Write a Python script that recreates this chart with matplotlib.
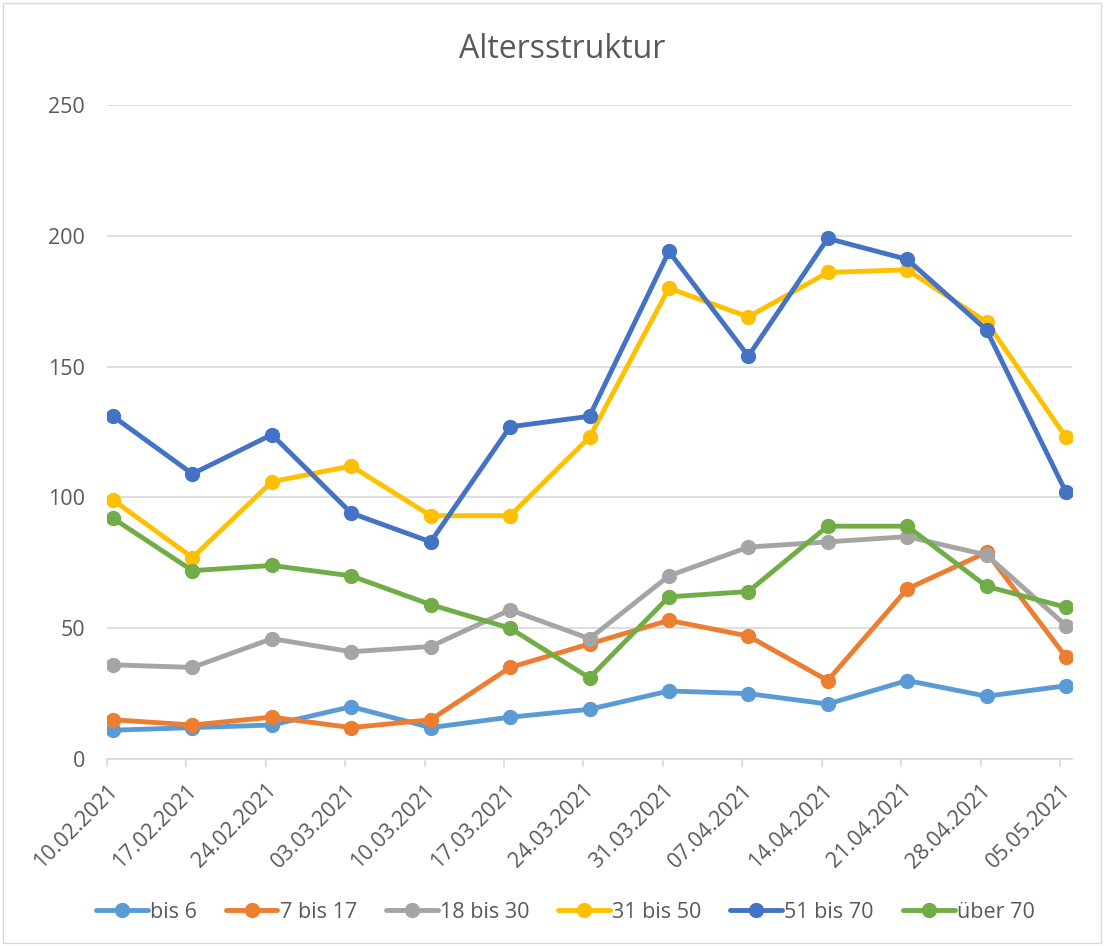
import matplotlib.pyplot as plt
from matplotlib.patches import Rectangle

plt.rcParams['font.family'] = ['Open Sans', 'DejaVu Sans']

dates = ['10.02.2021', '17.02.2021', '24.02.2021', '03.03.2021', '10.03.2021',
         '17.03.2021', '24.03.2021', '31.03.2021', '07.04.2021', '14.04.2021',
         '21.04.2021', '28.04.2021', '05.05.2021']

bis_6 = [11, 12, 13, 20, 12, 16, 19, 26, 25, 21, 30, 24, 28]
bis_17 = [15, 13, 16, 12, 15, 35, 44, 53, 47, 30, 65, 79, 39]
bis_30 = [36, 35, 46, 41, 43, 57, 46, 70, 81, 83, 85, 78, 51]
bis_50 = [99, 77, 106, 112, 93, 93, 123, 180, 169, 186, 187, 167, 123]
bis_70 = [131, 109, 124, 94, 83, 127, 131, 194, 154, 199, 191, 164, 102]
ueber_70 = [92, 72, 74, 70, 59, 50, 31, 62, 64, 89, 89, 66, 58]

series = [
    ('bis 6', bis_6, '#5B9BD5'),
    ('7 bis 17', bis_17, '#ED7D31'),
    ('18 bis 30', bis_30, '#A5A5A5'),
    ('31 bis 50', bis_50, '#FFC000'),
    ('51 bis 70', bis_70, '#4472C4'),
    ('über 70', ueber_70, '#70AD47'),
]

text_col = '#595959'
fig = plt.figure(figsize=(11.04, 9.46), dpi=100)
fig.patches.append(Rectangle((0.003, 0.003), 0.994, 0.994, transform=fig.transFigure,
                             fill=False, edgecolor='#D9D9D9', linewidth=1))
ax = fig.add_axes([107 / 1104, 1 - 759 / 946, (1072 - 107) / 1104, (759 - 105) / 946])

x = list(range(len(dates)))
for name, vals, col in series:
    ax.plot(x, vals, color=col, linewidth=3.5, marker='o', markersize=10,
            label=name, solid_capstyle='round', solid_joinstyle='round')

# Excel draws the points a few pixels right of the category ticks
off = 0.076
ax.set_xlim(-off, len(dates) - 1 + off)
ax.set_ylim(0, 250)
ax.set_yticks([0, 50, 100, 150, 200, 250])
ax.yaxis.grid(True, color='#D9D9D9', linewidth=1.2)
ax.set_axisbelow(True)
for s in ['top', 'right', 'left']:
    ax.spines[s].set_visible(False)
ax.spines['bottom'].set_color('#D9D9D9')
ax.spines['bottom'].set_linewidth(1.2)
ax.tick_params(axis='y', length=0, labelsize=15.5, labelcolor=text_col, pad=16)
ax.tick_params(axis='x', length=6, width=1.2, color='#D9D9D9', labelsize=15.5,
               labelcolor=text_col, pad=9)
ax.set_xticks([i - off for i in x])
ax.set_xticklabels(dates, rotation=45, ha='right', rotation_mode='anchor')

fig.text(0.509, 1 - 50 / 946, 'Altersstruktur', ha='center', va='center',
         fontsize=23, color=text_col)
fig.legend(loc='center', bbox_to_anchor=(0.512, 1 - 912 / 946), ncol=6, frameon=False,
           fontsize=15.5, labelcolor=text_col, handlelength=2.4, handletextpad=0.1,
           columnspacing=1.35)

fig.savefig('out.png', dpi=100)
